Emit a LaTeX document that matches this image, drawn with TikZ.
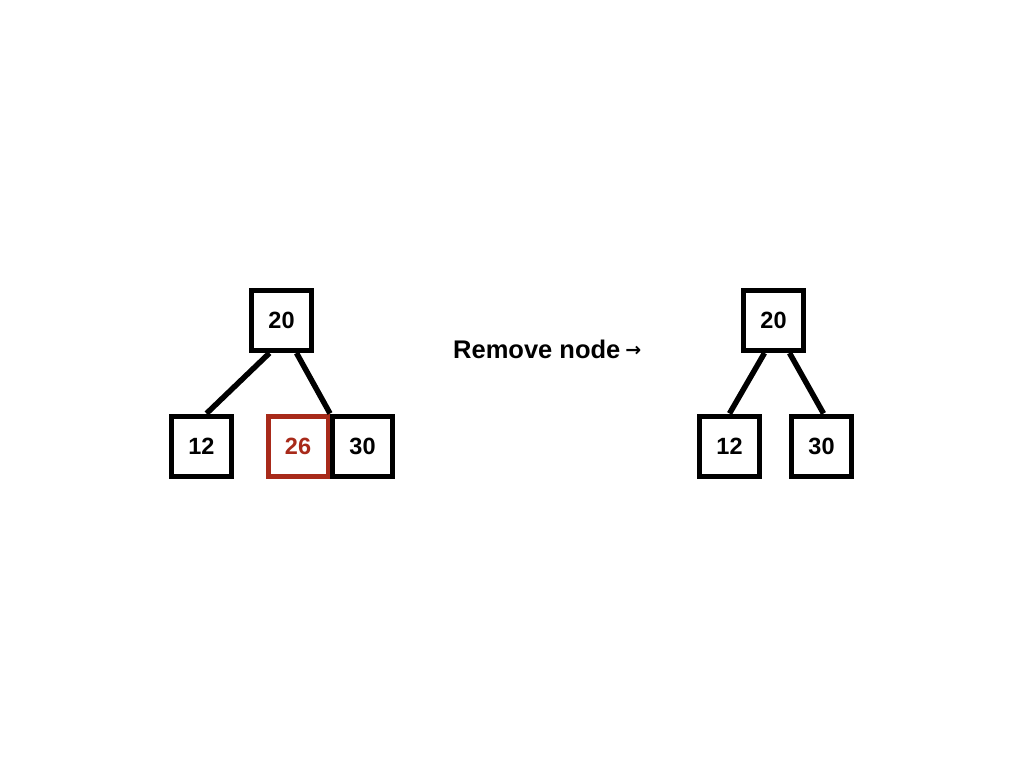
\documentclass[tikz,border=0pt]{standalone}
\usepackage{fontspec}
\setmainfont{Liberation Sans}
\newfontfamily\arrowfont{DejaVu Sans}
\begin{document}
\begin{tikzpicture}[x=1pt,y=-1pt,
  box/.style={draw=black,line width=5pt,minimum size=60pt,inner sep=0pt,font=\fontsize{23.5}{23.5}\selectfont\bfseries},
  redbox/.style={box,draw=delred,text=delred},
  link/.style={line width=5.5pt}]
\definecolor{delred}{HTML}{A82A1A}
\useasboundingbox (0,0) rectangle (1024,768);
% left tree
\node[box] (a20) at (281.5,320.5) {20};
\node[box] (a12) at (201.5,446) {12};
\node[redbox] (a26) at (298,446) {26};
\node[box] (a30) at (362.5,446) {30};
\draw[link] ([xshift=-12pt]a20.south) -- ([xshift=5pt]a12.north);
\draw[link] ([xshift=15pt]a20.south) -- (a30.north west);
% label
\node[font=\fontsize{25.5}{25.5}\selectfont\bfseries,anchor=west,inner sep=0pt] (lbl) at (453,349) {Remove node\hspace{5pt}\raisebox{1.5pt}{\arrowfont\bfseries\fontsize{19}{19}\selectfont →}};
% right tree
\node[box] (b20) at (773.5,320.5) {20};
\node[box] (b12) at (729.5,446) {12};
\node[box] (b30) at (821.5,446) {30};
\draw[link] ([xshift=-9pt]b20.south) -- ([xshift=0pt]b12.north);
\draw[link] ([xshift=16pt]b20.south) -- ([xshift=2pt]b30.north);
\end{tikzpicture}
\end{document}
